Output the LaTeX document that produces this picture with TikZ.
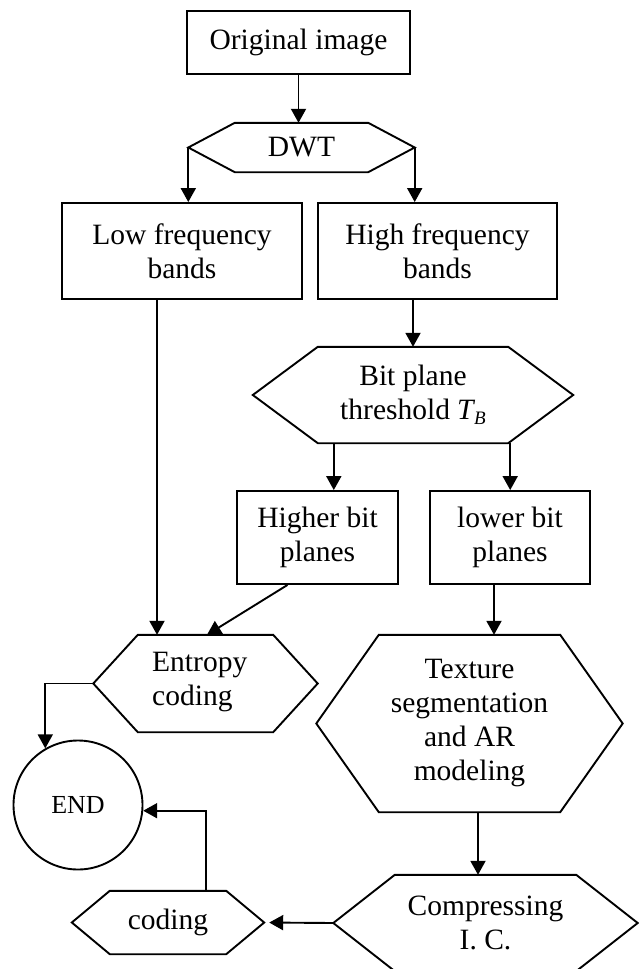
\documentclass[tikz,border=0pt]{standalone}
\usepackage{fontspec}
\setmainfont{Liberation Serif}
\usetikzlibrary{arrows.meta,calc}

% Hexagonal frame around a text node: the node is the flat inner part,
% the left and right tips stick out by #2 and are named #1-l and #1-r.
\newcommand\hexshape[2]{%
  \coordinate (#1-l) at ($(#1.west)+(-#2,0)$);
  \coordinate (#1-r) at ($(#1.east)+(#2,0)$);
  \draw[outline] (#1.north west) -- (#1.north east) -- (#1-r) --
    (#1.south east) -- (#1.south west) -- (#1-l) -- cycle;}

\tikzset{
  outline/.style={line width=1.9pt, line join=miter},
  txt/.style={font=\fontsize{29.5}{34}\selectfont, align=center, inner sep=0pt},
  box/.style={txt, draw, outline},
  hexin/.style={txt},
  link/.style={line width=1.9pt, -{Triangle[length=14pt,width=15pt]}},
}

\begin{document}
\begin{tikzpicture}[x=1pt,y=-1pt]
\fill[white] (0,0) rectangle (642,969);
\useasboundingbox (0,0) rectangle (642,969);

% process boxes
\node[box, minimum width=223pt, minimum height=63pt] (orig) at (298.5,42.5) {Original image};
\node[box, minimum width=240pt, minimum height=96pt] (low) at (182,251) {Low frequency\\bands};
\node[box, minimum width=239pt, minimum height=96pt] (high) at (437.5,251) {High frequency\\bands};
\node[box, minimum width=161pt, minimum height=93pt] (higher) at (317.5,537.5) {Higher bit\\planes};
\node[box, minimum width=160pt, minimum height=93pt] (lower) at (510,537.5) {lower bit\\planes};

% hexagonal steps
\node[hexin, minimum width=133pt, minimum height=49pt] (dwt) at (301.5,147.5) {DWT};
\hexshape{dwt}{46.5}
\node[hexin, minimum width=190pt, minimum height=96pt] (bit) at (413,395)
  {Bit plane\\threshold\hspace{7pt}\textit{T}\kern-1pt\raisebox{-5pt}{\fontsize{19}{19}\selectfont\textit{B}}};
\hexshape{bit}{65}
\node[hexin, minimum width=135pt, minimum height=97pt] (entropy) at (205.5,683.5) {};
\node[txt, align=left, anchor=west] (entropytxt) at (152,682) {Entropy\\coding};
\hexshape{entropy}{44.5}
\node[hexin, minimum width=181pt, minimum height=177pt] (texture) at (469.5,723.5)
  {Texture\\segmentation\\and AR\\modeling};
\hexshape{texture}{62.5}
\node[hexin, minimum width=181pt, minimum height=96pt] (compress) at (485.5,923)
  {Compressing\\I. C.};
\hexshape{compress}{61.5}
\node[hexin, minimum width=116pt, minimum height=63pt] (coding) at (168,922.5) {coding};
\hexshape{coding}{38}

% terminal
\node[circle, draw, outline, minimum size=129pt, inner sep=0pt,
      font=\fontsize{26}{30}\selectfont] (end) at (78,805) {END};

% connectors
\draw[link] (orig.south) -- (orig.south |- dwt.north);
\draw[link] (dwt-l) -- (dwt-l |- low.north);
\draw[link] (dwt-r) -- (dwt-r |- high.north);
\draw[link] (bit.north |- high.south) -- (bit.north);
\draw[link] ($(bit.south west)+(16,0)$) -- ($(bit.south west |- higher.north)+(16,0)$);
\draw[link] ($(bit.south east)+(2,0)$) -- ($(bit.south east |- lower.north)+(2,0)$);
\draw[link] ($(low.south)+(-25,0)$) -- ($(low.south |- entropy.north)+(-25,0)$);
\draw[link] ($(higher.south)+(-30,0)$) -- ($(entropy.north)+(1.5,0)$);
\draw[link] ($(lower.south)+(-16,0)$) -- ($(lower.south |- texture.north)+(-16,0)$);
\draw[link] ($(texture.south)+(8.5,0)$) -- ($(texture.south |- compress.north)+(8.5,0)$);
\draw[link, shorten >=5pt] (compress-l) -- (coding-r);
\draw[link] (entropy-l) -| (end.120);
\draw[link] ($(coding.north)+(38,0)$) |- (end.-5);
\end{tikzpicture}
\end{document}
